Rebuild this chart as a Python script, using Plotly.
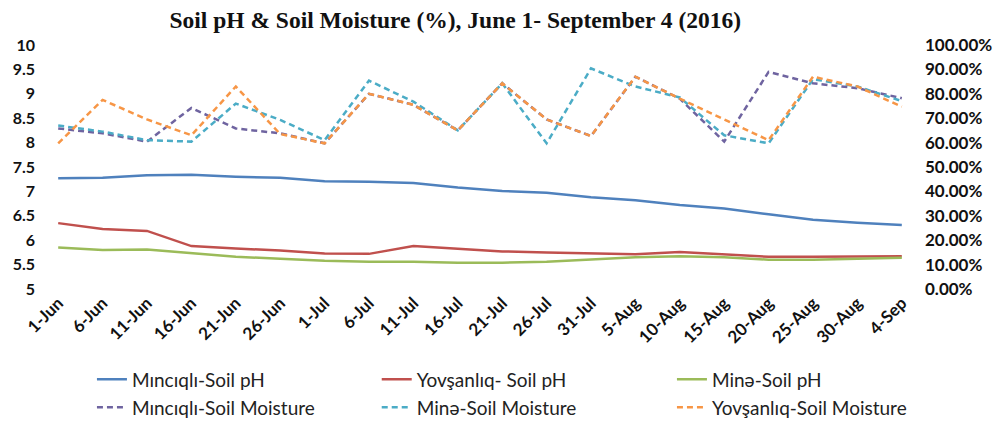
import plotly.graph_objects as go

dates = ["1-Jun", "6-Jun", "11-Jun", "16-Jun", "21-Jun", "26-Jun", "1-Jul", "6-Jul",
         "11-Jul", "16-Jul", "21-Jul", "26-Jul", "31-Jul", "5-Aug", "10-Aug", "15-Aug",
         "20-Aug", "25-Aug", "30-Aug", "4-Sep"]

ph_mincigli = [7.27, 7.28, 7.33, 7.34, 7.30, 7.28, 7.21, 7.20, 7.17, 7.08,
               7.01, 6.97, 6.88, 6.82, 6.72, 6.65, 6.53, 6.42, 6.36, 6.31]
ph_yovsanliq = [6.35, 6.23, 6.19, 5.88, 5.83, 5.79, 5.73, 5.72, 5.88, 5.82,
                5.77, 5.75, 5.73, 5.71, 5.76, 5.71, 5.66, 5.66, 5.66, 5.67]
ph_mine = [5.85, 5.80, 5.81, 5.73, 5.66, 5.62, 5.58, 5.56, 5.56, 5.54,
           5.54, 5.56, 5.60, 5.65, 5.67, 5.65, 5.60, 5.60, 5.62, 5.64]

moist_mincigli = [65.8, 63.8, 60.4, 74.2, 65.8, 63.8, 59.7, 80.0, 75.5, 65.0,
                  84.3, 69.5, 62.7, 87.0, 78.0, 60.4, 89.0, 84.3, 82.3, 78.2]
moist_mine = [67.0, 64.5, 61.0, 60.4, 76.0, 69.3, 61.0, 85.4, 76.8, 65.0,
              84.3, 59.7, 90.4, 83.0, 78.5, 63.0, 59.7, 86.0, 83.0, 77.0]
moist_yovsanliq = [59.7, 77.5, 69.5, 63.0, 83.0, 63.5, 59.7, 80.0, 75.5, 65.0,
                   84.3, 69.5, 62.7, 87.0, 78.0, 69.5, 61.0, 87.0, 83.0, 74.7]

ph_ticks = [5, 5.5, 6, 6.5, 7, 7.5, 8, 8.5, 9, 9.5, 10]
ph_ticklabels = ["5", "5.5", "6", "6.5", "7", "7.5", "8", "8.5", "9", "9.5", "10"]
moist_ticks = [0, 10, 20, 30, 40, 50, 60, 70, 80, 90, 100]
moist_ticklabels = ["%.2f%%" % v for v in moist_ticks]

BASE = "Lato, 'Open Sans', sans-serif"

fig = go.Figure()

series = [
    ("Mıncıqlı-Soil pH", ph_mincigli, "#4F81BD", "solid", "y", "legend"),
    ("Yovşanlıq- Soil pH", ph_yovsanliq, "#C0504D", "solid", "y", "legend2"),
    ("Minə-Soil pH", ph_mine, "#9BBB59", "solid", "y", "legend3"),
    ("Mıncıqlı-Soil Moisture", moist_mincigli, "#6F64A0", "6px,4px", "y2", "legend4"),
    ("Minə-Soil Moisture", moist_mine, "#4BACC6", "6px,4px", "y2", "legend5"),
    ("Yovşanlıq-Soil Moisture", moist_yovsanliq, "#F79646", "6px,4px", "y2", "legend6"),
]
for name, vals, col, dash, yax, leg in series:
    fig.add_trace(go.Scatter(x=dates, y=vals, name=name, mode="lines",
                             line=dict(color=col, width=2.5, dash=dash),
                             yaxis=yax, legend=leg))

col_x = [0.0925, 0.379, 0.676]
row_y = [0.152, 0.086]
legend_font = dict(family=BASE, size=19, color="#222")
legends = {}
names = ["legend", "legend2", "legend3", "legend4", "legend5", "legend6"]
for i, nm in enumerate(names):
    legends[nm] = dict(orientation="h", xref="container", yref="container",
                       x=col_x[i % 3], xanchor="left", y=row_y[i // 3], yanchor="top",
                       itemwidth=30, font=legend_font, bgcolor="rgba(0,0,0,0)")

fig.update_layout(
    width=994, height=425,
    paper_bgcolor="white", plot_bgcolor="white",
    margin=dict(l=36, r=70, t=45, b=136),
    title=dict(text="<b>Soil pH &amp; Soil Moisture (%), June 1- September 4 (2016)</b>",
               x=0.458, xanchor="center", y=0.953, yanchor="middle",
               font=dict(family="'Liberation Serif', 'DejaVu Serif', serif", size=23.5, color="#111")),
    xaxis=dict(type="category", range=[-0.5, 19.5], showgrid=False, zeroline=False,
               showline=False, ticks="", tickangle=-45, automargin=False,
               tickfont=dict(family=BASE, size=17, color="#111", weight="bold")),
    yaxis=dict(range=[5, 10], tickvals=ph_ticks, ticktext=ph_ticklabels,
               showgrid=False, zeroline=False, showline=False, ticks="", automargin=False,
               tickfont=dict(family=BASE, size=16, color="#111", weight="bold")),
    yaxis2=dict(range=[0, 100], tickvals=moist_ticks, ticktext=moist_ticklabels,
                overlaying="y", side="right", showgrid=False, zeroline=False,
                showline=False, ticks="", automargin=False,
                tickfont=dict(family=BASE, size=17, color="#111", weight="bold")),
    showlegend=True,
    **legends,
)

fig.write_html("out.html", config={"displayModeBar": False},
               post_script="document.body.style.margin='0';")
